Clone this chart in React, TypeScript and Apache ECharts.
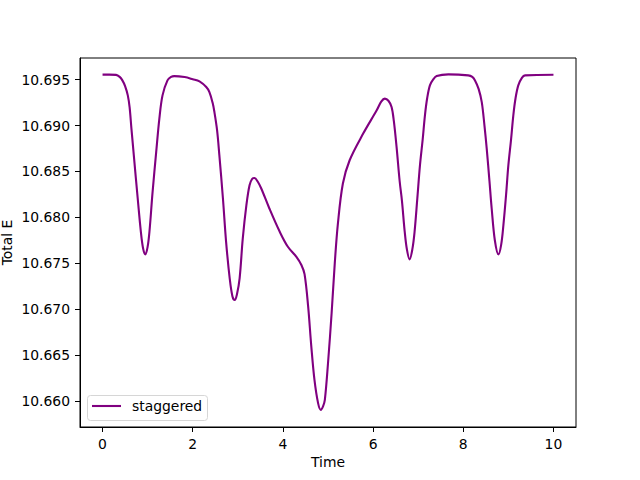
import React, { useEffect, useRef } from "react";
import * as echarts from "echarts";

const seriesName = "staggered";
const xTicks = [0, 2, 4, 6, 8, 10];
const yTicks = [10.66, 10.665, 10.67, 10.675, 10.68, 10.685, 10.69, 10.695];

const time = [
  0.0, 0.15, 0.3, 0.38, 0.44, 0.5, 0.56, 0.6, 0.64, 0.7, 0.78, 0.85, 0.9, 0.95, 1.0, 1.04, 1.11, 1.19, 1.26, 1.33, 1.44,
  1.52, 1.59, 1.82, 2.0, 2.15, 2.3, 2.37, 2.44, 2.48, 2.54, 2.59, 2.67, 2.74, 2.82, 2.88, 2.93, 2.98, 3.04, 3.11,
  3.19, 3.26, 3.32, 3.37, 3.44, 3.52, 3.7, 3.93, 4.11, 4.3, 4.41, 4.48, 4.56, 4.63, 4.7, 4.78, 4.84, 4.89, 4.93,
  5.0, 5.08, 5.15, 5.22, 5.33, 5.48, 5.78, 6.08, 6.18, 6.26, 6.34, 6.41, 6.46, 6.52, 6.59, 6.64, 6.7, 6.75, 6.81,
  6.87, 6.92, 6.98, 7.04, 7.1, 7.15, 7.2, 7.26, 7.33, 7.41, 7.67, 8.11, 8.2, 8.26, 8.34, 8.41, 8.47, 8.52, 8.58,
  8.63, 8.7, 8.78, 8.84, 8.89, 8.95, 9.0, 9.06, 9.11, 9.16, 9.22, 9.3, 9.37, 10.0,
];

const totalE = [
  10.69555, 10.69555, 10.69552, 10.6953, 10.69492, 10.6943, 10.69329, 10.6920, 10.6897, 10.6864, 10.68205, 10.67842,
  10.6766, 10.67596, 10.6768, 10.67842, 10.68277, 10.68712, 10.69076, 10.69329, 10.69492, 10.6953, 10.69539,
  10.69528, 10.69505, 10.69482, 10.6942, 10.69365, 10.6925, 10.6915, 10.6895, 10.6868, 10.68205, 10.67733,
  10.67335, 10.6714, 10.67099, 10.6716, 10.67335, 10.6777, 10.68132, 10.6835, 10.6842, 10.68429, 10.6839,
  10.68314, 10.68096, 10.67842, 10.67679, 10.6757, 10.6748, 10.6738, 10.67026, 10.66591, 10.66228, 10.65975,
  10.65902, 10.6594, 10.66011, 10.6641, 10.66954, 10.67498, 10.67933, 10.68368, 10.68622, 10.68912, 10.69166,
  10.6926, 10.69293, 10.6927, 10.69202, 10.6905, 10.6877, 10.6839, 10.6818, 10.6785, 10.6765, 10.67542, 10.6765,
  10.67842, 10.682, 10.68568, 10.6885, 10.69112, 10.693, 10.69438, 10.695, 10.69539, 10.69558, 10.69547, 10.6953,
  10.69492, 10.694, 10.69256, 10.69, 10.68749, 10.684, 10.68096, 10.6775, 10.67596, 10.677, 10.67915, 10.6825,
  10.68568, 10.6885, 10.69112, 10.693, 10.69438, 10.6952, 10.69547, 10.69554,
];

const FONT = "DejaVu Sans";

export default function App() {
  const ref = useRef<HTMLDivElement>(null);
  useEffect(() => {
    if (!ref.current) return;
    const chart = echarts.init(ref.current, null, { renderer: "svg" });
    const data = time.map((t, i) => [t, totalE[i]]);
    chart.setOption({
      animation: false,
      backgroundColor: "#ffffff",
      grid: {
        left: 80,
        right: 64,
        top: 58,
        bottom: 53,
        containLabel: false,
        outerBoundsMode: "none",
        show: true,
        borderColor: "#000000",
        borderWidth: 1,
        backgroundColor: "transparent",
      },
      graphic: [
        {
          type: "rect",
          z: 3,
          shape: { x: 87.5, y: 395.5, width: 120, height: 25, r: 3 },
          style: { fill: "rgba(255,255,255,0.8)", stroke: "#d6d6d6", lineWidth: 1 },
        },
      ],
      legend: {
        show: true,
        z: 5,
        left: 87,
        top: 395,
        orient: "vertical",
        data: [{ name: seriesName, icon: "rect" }],
        itemWidth: 29,
        itemHeight: 2.1,
        padding: [4, 7, 4, 5],
        textStyle: { fontFamily: FONT, fontSize: 13.9, color: "#000000", padding: [0, 0, 0, 6] },
      },
      xAxis: {
        type: "value",
        min: -0.5,
        max: 10.5,
        name: "Time",
        nameLocation: "middle",
        nameGap: 28,
        nameMoveOverlap: false,
        nameTextStyle: { fontFamily: FONT, fontSize: 13.9, color: "#000000" },
        axisLine: { show: true, onZero: false, lineStyle: { color: "#000000", width: 1 } },
        axisTick: { show: true, inside: false, length: 5, customValues: xTicks, lineStyle: { color: "#000000" } },
        axisLabel: {
          show: true,
          margin: 10,
          customValues: xTicks,
          fontFamily: FONT,
          fontSize: 13.9,
          color: "#000000",
          formatter: (v: number) => String(v),
        },
        splitLine: { show: false },
      },
      yAxis: {
        type: "value",
        min: 10.65715,
        max: 10.69736,
        name: "Total E",
        nameLocation: "middle",
        nameGap: 66,
        nameMoveOverlap: false,
        nameTextStyle: { fontFamily: FONT, fontSize: 13.9, color: "#000000" },
        axisLine: { show: true, onZero: false, lineStyle: { color: "#000000", width: 1 } },
        axisTick: { show: true, inside: false, length: 5, customValues: yTicks, lineStyle: { color: "#000000" } },
        axisLabel: {
          show: true,
          margin: 10,
          customValues: yTicks,
          fontFamily: FONT,
          fontSize: 13.9,
          color: "#000000",
          formatter: (v: number) => v.toFixed(3),
        },
        splitLine: { show: false },
      },
      series: [
        {
          name: seriesName,
          type: "line",
          data,
          symbol: "none",
          showSymbol: false,
          smooth: 0.35,
          lineStyle: { color: "#800080", width: 2.1 },
          itemStyle: { color: "#800080" },
        },
      ],
    });
    return () => chart.dispose();
  }, []);
  return (
    <div
      ref={ref}
      style={{ position: "fixed", left: 0, top: 0, width: 640, height: 480 }}
    />
  );
}
